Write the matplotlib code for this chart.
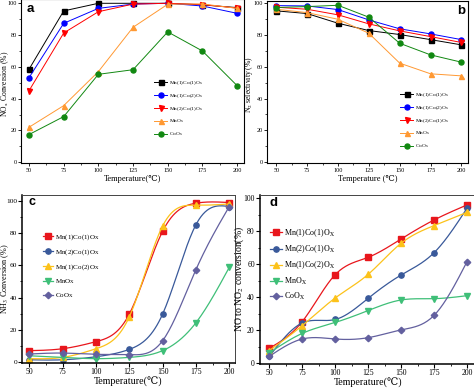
import numpy as np
import matplotlib
matplotlib.use('Agg')
import matplotlib.pyplot as plt
from matplotlib.ticker import MultipleLocator

plt.rcParams['font.family'] = ['Liberation Serif', 'DejaVu Serif']
plt.rcParams['mathtext.fontset'] = 'stix'

temps = [50, 75, 100, 125, 150, 175, 200]

# Panel a: NOx conversion (%)
a_labels = ['Mn(1)Co(1)O$_\\mathrm{x}$', 'Mn(1)Co(2)O$_\\mathrm{x}$', 'Mn(2)Co(1)O$_\\mathrm{x}$',
            'MnO$_\\mathrm{x}$', 'CoO$_\\mathrm{x}$']
a_mn1co1 = [58.5, 95.2, 100, 100, 100, 99.0, 97.3]
a_mn1co2 = [53.2, 87.4, 96.8, 99.5, 100, 98.3, 93.7]
a_mn2co1 = [45.0, 81.3, 94.7, 99.5, 100, 99.2, 97.0]
a_mnox = [22.0, 35.6, 57.0, 84.9, 99.4, 99.6, 96.8]
a_coox = [17.4, 28.7, 55.3, 58.2, 82.0, 70.0, 48.2]

# Panel b: N2 selectivity (%)
b_mn1co1 = [95.2, 93.5, 87.4, 82.8, 80.3, 77.1, 73.8]
b_mn1co2 = [98.5, 98.3, 96.0, 89.5, 83.9, 80.7, 77.1]
b_mn2co1 = [97.5, 96.2, 92.7, 87.0, 82.6, 79.0, 75.3]
b_mnox = [96.2, 94.1, 89.9, 81.1, 62.3, 55.6, 54.3]
b_coox = [97.3, 97.9, 98.7, 91.2, 74.8, 67.5, 62.9]

# Panel c: NH3 conversion (%)
cd_labels = ['Mn(1)Co(1)O$_\\mathrm{X}$', 'Mn(2)Co(1)O$_\\mathrm{X}$', 'Mn(1)Co(2)O$_\\mathrm{X}$',
             'MnO$_\\mathrm{X}$', 'CoO$_\\mathrm{X}$']
c_mn1co1 = [6.9, 8.1, 12.5, 29.7, 81.3, 98.8, 99.2]
c_mn2co1 = [1.2, 1.2, 3.1, 7.7, 29.7, 85.4, 96.7]
c_mn1co2 = [1.9, 2.7, 8.1, 28.0, 84.6, 97.5, 98.3]
c_mnox = [3.7, 2.7, 1.9, 2.7, 6.9, 24.3, 58.8]
c_coox = [4.8, 5.4, 4.6, 4.4, 13.1, 57.4, 96.7]

# Panel d: NO to NO2 conversion (%)
d_mn1co1 = [9.1, 25.2, 53.6, 64.1, 75.2, 86.7, 95.8]
d_mn2co1 = [4.2, 24.4, 26.5, 39.3, 53.4, 66.9, 93.8]
d_mn1co2 = [7.7, 22.8, 39.5, 53.8, 72.6, 83.3, 91.3]
d_mnox = [6.3, 18.1, 24.7, 31.9, 38.3, 39.1, 40.9]
d_coox = [4.2, 14.7, 14.7, 15.5, 20.2, 29.0, 61.5]

ab_colors = ['#000000', '#0000ff', '#ff0000', '#ff9933', '#118811']
ab_markers = ['s', 'o', 'v', '^', 'o']
cd_colors = ['#e8161c', '#39599a', '#fcc21a', '#3fbf78', '#63609f']
cd_markers = ['s', 'o', '^', 'v', 'D']

W, H = 474, 388
fig = plt.figure(figsize=(W / 100, H / 100), dpi=100)


def add_ax(l, r, t, b):
    return fig.add_axes([l / W, 1 - b / H, (r - l) / W, (b - t) / H])


def spline(x, y, n=200):
    x = np.asarray(x, float)
    y = np.asarray(y, float)
    m = len(x)
    h = np.diff(x)
    A = np.zeros((m, m))
    rhs = np.zeros(m)
    A[0, 0] = 1
    A[-1, -1] = 1
    for i in range(1, m - 1):
        A[i, i - 1] = h[i - 1]
        A[i, i] = 2 * (h[i - 1] + h[i])
        A[i, i + 1] = h[i]
        rhs[i] = 6 * ((y[i + 1] - y[i]) / h[i] - (y[i] - y[i - 1]) / h[i - 1])
    M = np.linalg.solve(A, rhs)
    xs = np.linspace(x[0], x[-1], n)
    idx = np.clip(np.searchsorted(x, xs) - 1, 0, m - 2)
    x0, x1 = x[idx], x[idx + 1]
    hh = x1 - x0
    t1 = x1 - xs
    t0 = xs - x0
    ys = (M[idx] * t1 ** 3 + M[idx + 1] * t0 ** 3) / (6 * hh) \
        + (y[idx] / hh - M[idx] * hh / 6) * t1 + (y[idx + 1] / hh - M[idx + 1] * hh / 6) * t0
    return xs, ys


def style_ab(ax, xlim, ylim, xlabel, ylabel, ylx):
    ax.set_xlim(*xlim)
    ax.set_ylim(*ylim)
    ax.set_xticks(temps)
    ax.xaxis.set_minor_locator(MultipleLocator(12.5))
    ax.yaxis.set_major_locator(MultipleLocator(20))
    ax.yaxis.set_minor_locator(MultipleLocator(10))
    ax.tick_params(which='major', direction='out', length=2.0, width=0.6, labelsize=4.4, pad=1.0)
    ax.tick_params(axis='x', which='major', pad=1.8)
    ax.tick_params(which='minor', direction='out', length=1.2, width=0.5)
    for s in ax.spines.values():
        s.set_linewidth(0.8)
    ax.set_xlabel(xlabel, fontsize=6, labelpad=1.5)
    ax.set_ylabel(ylabel, fontsize=5.5)
    ax.yaxis.set_label_coords(ylx, 0.48)


def style_cd(ax, xlim, ylim, xlabel, ylabel, ylx, ylsize, ticksize):
    ax.set_xlim(*xlim)
    ax.set_ylim(*ylim)
    ax.set_xticks(temps)
    ax.xaxis.set_minor_locator(MultipleLocator(12.5))
    ax.yaxis.set_major_locator(MultipleLocator(20))
    ax.yaxis.set_minor_locator(MultipleLocator(10))
    ax.tick_params(which='major', direction='out', length=2.6, width=0.8, labelsize=ticksize, pad=0.8)
    ax.tick_params(axis='x', which='major', pad=1.2, labelsize=5.6)
    ax.tick_params(which='minor', direction='out', length=1.6, width=0.6)
    ax.spines['left'].set_linewidth(1.1)
    ax.spines['bottom'].set_linewidth(1.1)
    ax.spines['top'].set_linewidth(0.7)
    ax.spines['right'].set_linewidth(0.7)
    ax.spines['top'].set_color('#444444')
    ax.spines['right'].set_color('#444444')
    ax.set_xlabel(xlabel, fontsize=7.2, labelpad=0.8)
    ax.set_ylabel(ylabel, fontsize=ylsize)
    ax.yaxis.set_label_coords(ylx, 0.5)


# ---- Panel a ----
ax_a = add_ax(21, 244, -1, 162.5)
for ys, c, mk, lab in zip([a_mn1co1, a_mn1co2, a_mn2co1, a_mnox, a_coox], ab_colors, ab_markers, a_labels):
    ax_a.plot(temps, ys, color=c, marker=mk, markersize=3.6, linewidth=0.7, label=lab)
style_ab(ax_a, (44.2, 205.0), (-0.2, 102.7), 'Temperature(℃)', 'NO$_\\mathrm{x}$ Conversion (%)', -0.046)
ax_a.legend(loc='upper left', bbox_to_anchor=(154 / W, 1 - 79 / H), bbox_transform=fig.transFigure,
            frameon=False, fontsize=3.9, handlelength=2.4, handletextpad=0.4, labelspacing=0.95,
            borderpad=0, borderaxespad=0)
fig.text(30 / W, 1 - 8.5 / H, 'a', family='Liberation Sans', fontweight='bold', fontsize=9.5,
         ha='center', va='center')

# ---- Panel b ----
ax_b = add_ax(267, 468, 1, 162.5)
for ys, c, mk, lab in zip([b_mn1co1, b_mn1co2, b_mn2co1, b_mnox, b_coox], ab_colors, ab_markers, a_labels):
    ax_b.plot(temps, ys, color=c, marker=mk, markersize=3.6, linewidth=0.7, label=lab)
style_ab(ax_b, (42.5, 205.3), (-0.2, 101.4), 'Temperature (℃)', 'N$_2$ selectivity (%)', -0.062)
ax_b.legend(loc='upper left', bbox_to_anchor=(400 / W, 1 - 91 / H), bbox_transform=fig.transFigure,
            frameon=False, fontsize=3.9, handlelength=2.4, handletextpad=0.4, labelspacing=0.95,
            borderpad=0, borderaxespad=0)
fig.text(461 / W, 1 - 11 / H, 'b', family='Liberation Sans', fontweight='bold', fontsize=9.5,
         ha='center', va='center')

# ---- Panel c ----
ax_c = add_ax(22, 235, 195, 363)
for ys, c, mk, lab in zip([c_mn1co1, c_mn2co1, c_mn1co2, c_mnox, c_coox], cd_colors, cd_markers, cd_labels):
    xs, ss = spline(temps, ys)
    ax_c.plot(xs, ss, color=c, linewidth=0.9)
    ax_c.plot(temps, ys, linestyle='none', color=c, marker=mk, markersize=3.8 if mk != 'D' else 3.3)
    ax_c.plot([], [], color=c, marker=mk, markersize=3.8 if mk != 'D' else 3.3, linewidth=0.9, label=lab)
style_cd(ax_c, (44.5, 204.3), (-0.8, 103.9), 'Temperature(℃)', 'NH$_3$ Conversion (%)', -0.052, 5.9, 5.3)
ax_c.legend(loc='upper left', bbox_to_anchor=(43 / W, 1 - 232.5 / H), bbox_transform=fig.transFigure,
            frameon=False, fontsize=5.0, handlelength=1.45, handletextpad=0.3, labelspacing=0.75,
            borderpad=0, borderaxespad=0)
fig.text(32 / W, 1 - 202 / H, 'c', family='Liberation Sans', fontweight='bold', fontsize=9,
         ha='center', va='center')

# ---- Panel d ----
ax_d = add_ax(259.5, 476, 195, 363.8)
for ys, c, mk, lab in zip([d_mn1co1, d_mn2co1, d_mn1co2, d_mnox, d_coox], cd_colors, cd_markers, cd_labels):
    xs, ss = spline(temps, ys)
    ax_d.plot(xs, ss, color=c, linewidth=0.9)
    ax_d.plot(temps, ys, linestyle='none', color=c, marker=mk, markersize=3.8 if mk != 'D' else 3.3)
    ax_d.plot([], [], color=c, marker=mk, markersize=3.8 if mk != 'D' else 3.3, linewidth=0.9, label=lab)
style_cd(ax_d, (42.6, 206.8), (-0.3, 101.8), 'Temperature(℃)', 'NO to NO$_2$ conversion(%)', -0.064, 7.0, 5.6)
ax_d.legend(loc='upper left', bbox_to_anchor=(270 / W, 1 - 227.5 / H), bbox_transform=fig.transFigure,
            frameon=False, fontsize=5.8, handlelength=1.55, handletextpad=0.25, labelspacing=0.55,
            borderpad=0, borderaxespad=0)
fig.text(273 / W, 1 - 203 / H, 'd', family='Liberation Sans', fontweight='bold', fontsize=9.5,
         ha='center', va='center')

fig.savefig('out.png', dpi=100)
